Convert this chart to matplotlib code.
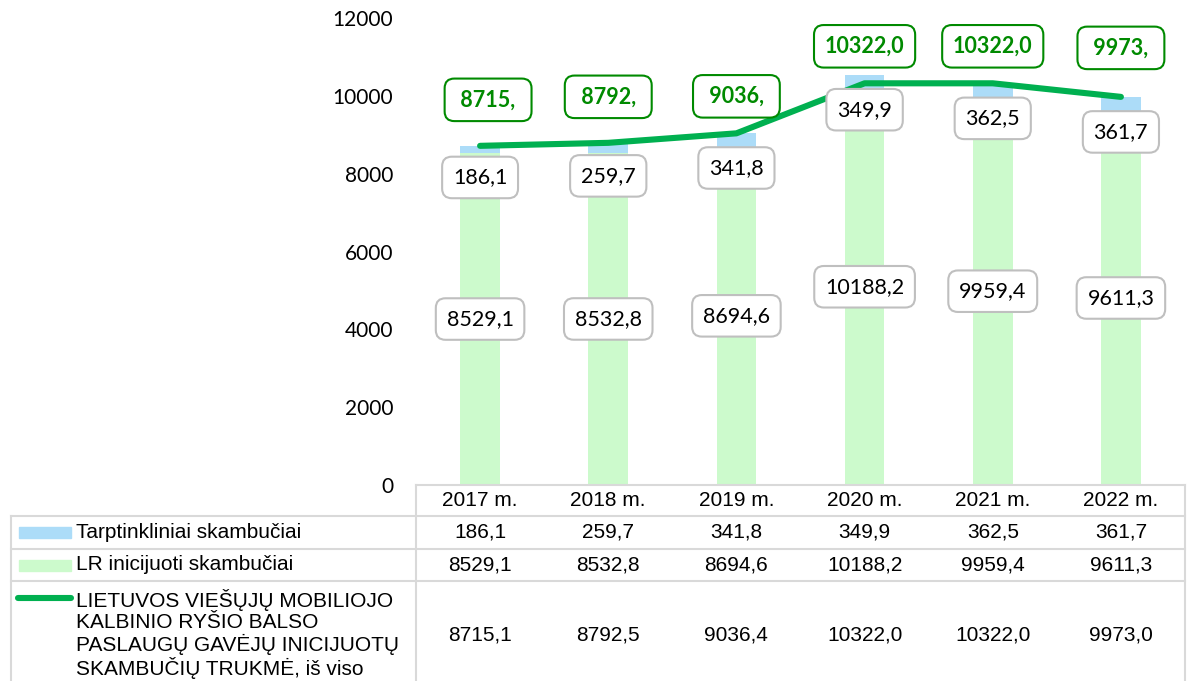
import numpy as np
import matplotlib
matplotlib.use("Agg")
import matplotlib.pyplot as plt
from matplotlib.lines import Line2D
from matplotlib.patches import Rectangle

# data
years = ["2017 m.", "2018 m.", "2019 m.", "2020 m.", "2021 m.", "2022 m."]
roaming = [186.1, 259.7, 341.8, 349.9, 362.5, 361.7]
domestic = [8529.1, 8532.8, 8694.6, 10188.2, 9959.4, 9611.3]
total = [8715.1, 8792.5, 9036.4, 10322.0, 10322.0, 9973.0]

series_names = [
    "Tarptinkliniai skambučiai",
    "LR inicijuoti skambučiai",
    "LIETUVOS VIEŠŲJŲ MOBILIOJO\nKALBINIO RYŠIO BALSO\nPASLAUGŲ GAVĖJŲ INICIJUOTŲ\nSKAMBUČIŲ TRUKMĖ, iš viso",
]

BLUE = "#acdcf8"
LGREEN = "#ccfacc"
GREEN = "#00b050"
DGREEN = "#008a00"
GRID = "#d9d9d9"

W, H = 1189, 681


def fx(px):
    return px / W


def fy(py):
    return 1 - py / H


def fmt(v):
    return f"{v:.1f}".replace(".", ",")


fig = plt.figure(figsize=(W / 100, H / 100), dpi=100)
ax = fig.add_axes([fx(416), fy(485), fx(1185) - fx(416), fy(18) - fy(485)])

x = np.arange(len(years))
ax.bar(x, domestic, width=0.31, color=LGREEN, zorder=1)
ax.bar(x, roaming, width=0.31, bottom=domestic, color=BLUE, zorder=1)
ax.plot(x, total, color=GREEN, lw=4.4, solid_capstyle="round",
        solid_joinstyle="round", zorder=3)

ax.set_xlim(-0.5, len(years) - 0.5)
ax.set_ylim(0, 12000)
ax.set_yticks(np.arange(0, 12001, 2000))
ax.set_xticks([])
ax.tick_params(axis="y", length=0, pad=16.5)
for lab in ax.get_yticklabels():
    lab.set_fontfamily("Lato")
    lab.set_fontsize(15)
for s in ax.spines.values():
    s.set_visible(False)

# data labels
white_box = dict(boxstyle="round,pad=0.5,rounding_size=0.45", fc="white",
                 ec="#bfbfbf", lw=1.5)
green_box = dict(boxstyle="round,pad=0.5,rounding_size=0.45", fc="white",
                 ec=DGREEN, lw=1.5)
tot_off = [46, 46, 37, 37, 37, 49]
tot_dx = [8, 0, 0, 0, 0, 0]
for i in range(len(years)):
    ax.annotate(fmt(domestic[i]), (x[i], domestic[i] / 2), ha="center", va="center",
                fontsize=15.5, family="Lato", zorder=5, bbox=white_box)
    ax.annotate(fmt(roaming[i]), (x[i], domestic[i] + roaming[i] / 2),
                xytext=(0, -28), textcoords="offset pixels", ha="center",
                va="center", fontsize=15.5, family="Lato", zorder=5, bbox=white_box)
    # Excel shows the total label cut off inside a fixed size box
    full = fmt(total[i])
    shown = full if total[i] >= 10000 else " " + full[:-1] + " "
    ax.annotate(shown, (x[i], total[i]), xytext=(tot_dx[i], tot_off[i]),
                textcoords="offset pixels", ha="center", va="center",
                fontsize=15.5, family="Lato", fontweight="bold",
                color=DGREEN, zorder=6, bbox=green_box)

# data table below the chart
def hline(y, x0, x1):
    fig.add_artist(Line2D([fx(x0), fx(x1)], [fy(y), fy(y)], color=GRID, lw=1.5))


def vline(xp, y0, y1):
    fig.add_artist(Line2D([fx(xp), fx(xp)], [fy(y0), fy(y1)], color=GRID, lw=1.5))


hline(485, 416, 1185)
for yy in [516, 549, 581]:
    hline(yy, 11, 1185)
vline(416, 485, 681)
vline(1185, 485, 681)
vline(11, 516, 681)

col_w = (1185 - 416) / len(years)
row_y = [532.5, 565, 635]
rows = [roaming, domestic, total]
for i, yr in enumerate(years):
    cx = 416 + col_w * (i + 0.5)
    fig.text(fx(cx), fy(500.5), yr, ha="center", va="center",
             fontsize=15, family="Liberation Sans")
    for r, vals in enumerate(rows):
        fig.text(fx(cx), fy(row_y[r]), fmt(vals[i]), ha="center", va="center",
                 fontsize=15, family="Liberation Sans")

# legend keys inside the table
fig.add_artist(Rectangle((fx(19), fy(538)), fx(71) - fx(19), fy(527) - fy(538),
                         color=BLUE, transform=fig.transFigure))
fig.add_artist(Rectangle((fx(19), fy(571)), fx(71) - fx(19), fy(560) - fy(571),
                         color=LGREEN, transform=fig.transFigure))
fig.add_artist(Line2D([fx(18), fx(71)], [fy(598), fy(598)], color=GREEN, lw=4.4,
                      solid_capstyle="round"))

fig.text(fx(76), fy(532.5), series_names[0], ha="left", va="center",
         fontsize=15, family="Liberation Sans")
fig.text(fx(76), fy(565), series_names[1], ha="left", va="center",
         fontsize=15, family="Liberation Sans")
fig.text(fx(76), fy(634), series_names[2], ha="left", va="center",
         fontsize=15, family="Liberation Sans", linespacing=1.12)

fig.savefig("out.png", dpi=100)
